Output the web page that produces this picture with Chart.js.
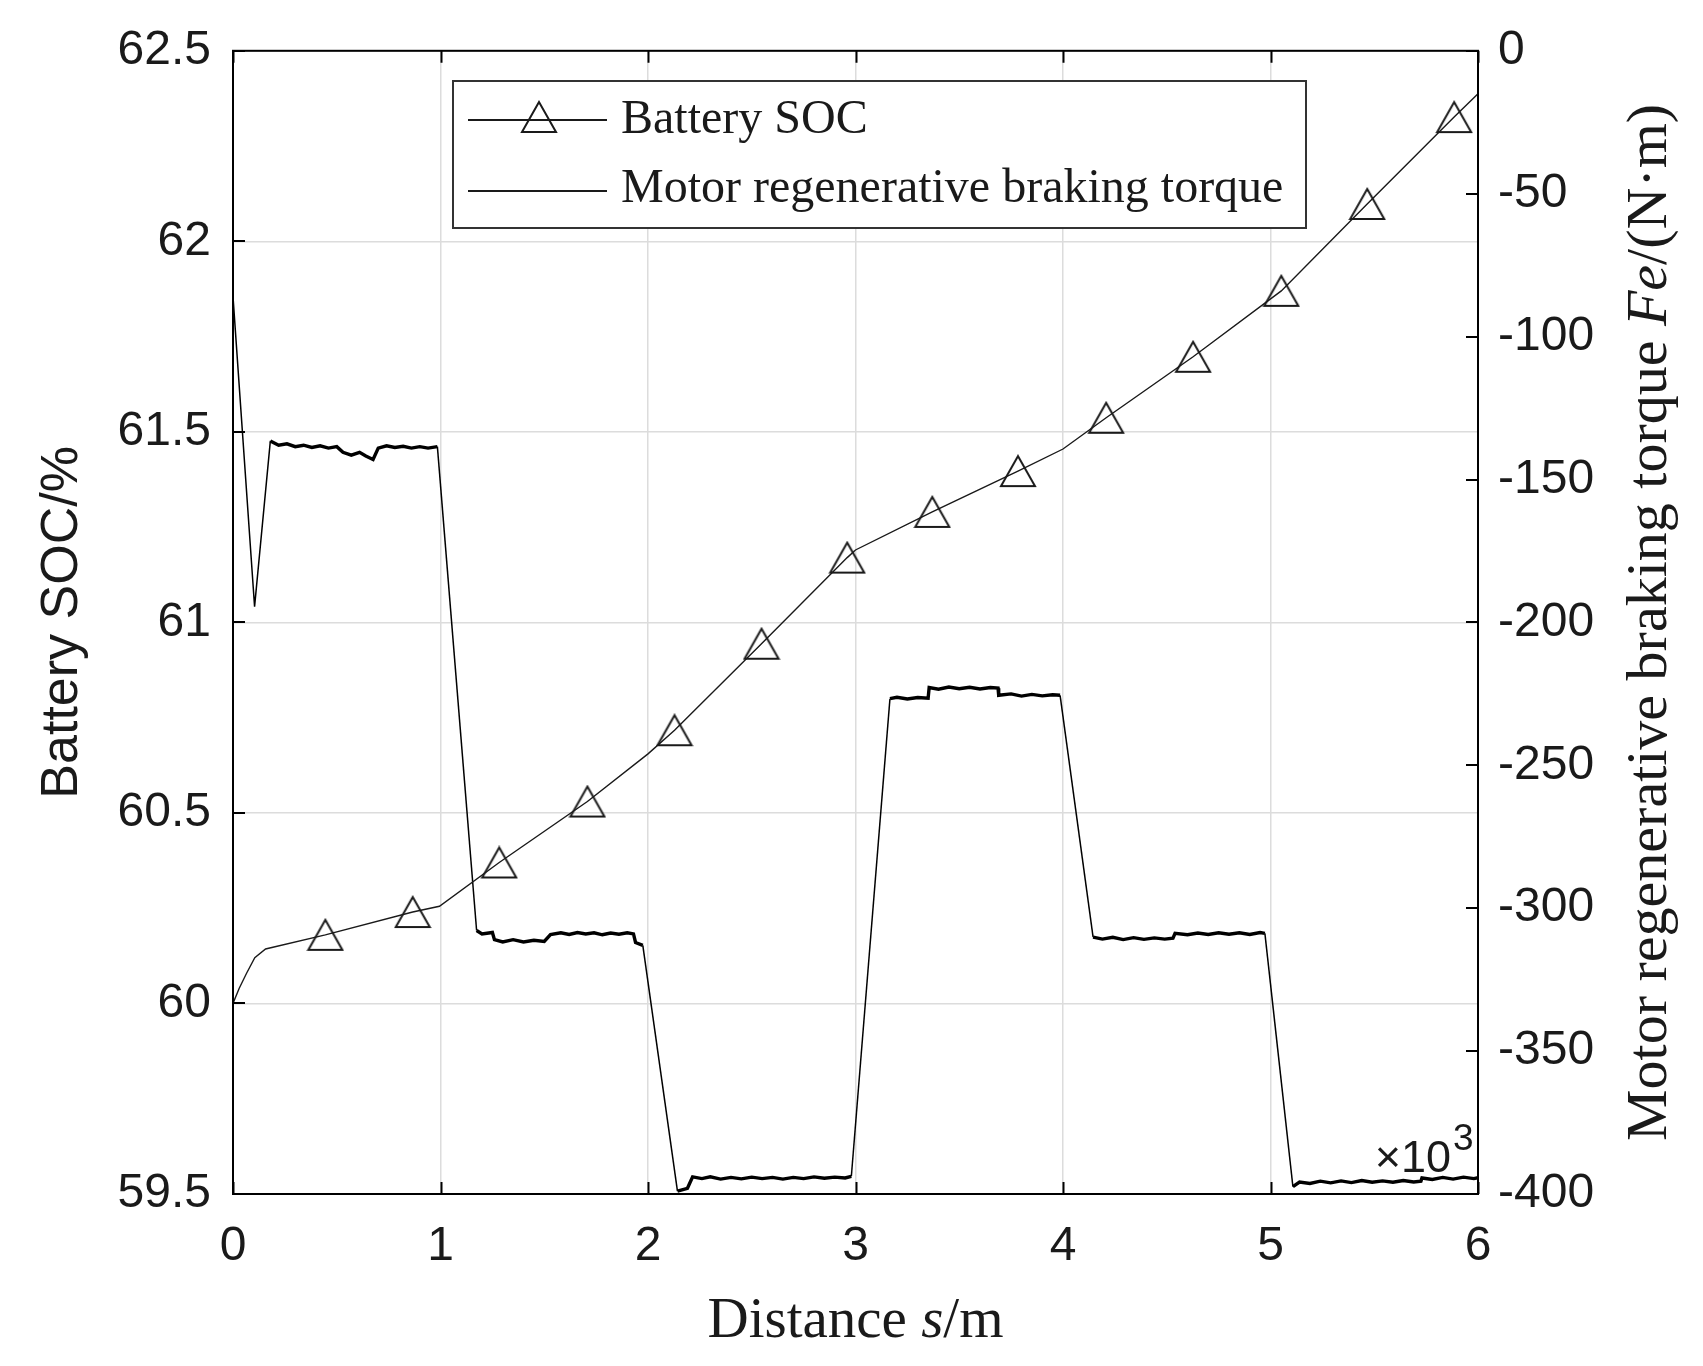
<!DOCTYPE html>
<html><head><meta charset="utf-8">
<script src="https://cdn.jsdelivr.net/npm/chart.js@4.4.0/dist/chart.umd.min.js"></script>
<style>html,body{margin:0;padding:0;background:#fff;}</style>
</head><body>
<canvas id="c" width="1703" height="1366"></canvas>
<script>
// ---- data ----
const distanceTicks = [0, 1, 2, 3, 4, 5, 6];
const socTicks = [59.5, 60, 60.5, 61, 61.5, 62, 62.5];
const torqueTicks = [0, -50, -100, -150, -200, -250, -300, -350, -400];

const socDistance = [0, 0.03, 0.066, 0.105, 0.157, 0.445, 0.866, 0.995, 1.283, 1.708, 2.0, 2.128, 2.547, 2.96, 3.0, 3.37, 3.783, 4.0, 4.208, 4.627, 5.052, 5.466, 5.885, 6.0];
const socValues   = [60.0, 60.04, 60.08, 60.12, 60.143, 60.18, 60.24, 60.255, 60.37, 60.53, 60.655, 60.717, 60.944, 61.17, 61.19, 61.29, 61.397, 61.455, 61.537, 61.697, 61.87, 62.098, 62.326, 62.387];
const socMarkers  = [0, 0, 0, 0, 0, 1, 1, 0, 1, 1, 0, 1, 1, 1, 0, 1, 1, 0, 1, 1, 1, 1, 1, 0];

const torqueDistance = [0.000, 0.104, 0.180, 0.22, 0.26, 0.30, 0.34, 0.38, 0.42, 0.46, 0.50, 0.53, 0.57, 0.61, 0.64, 0.675, 0.70, 0.74, 0.78, 0.82, 0.86, 0.90, 0.94, 0.985,
  1.174, 1.20, 1.25, 1.26, 1.30, 1.35, 1.40, 1.45, 1.50, 1.53, 1.58, 1.62, 1.66, 1.70, 1.74, 1.78, 1.82, 1.86, 1.90, 1.93, 1.94, 1.975,
  2.142, 2.19, 2.215, 2.26, 2.30, 2.35, 2.40, 2.45, 2.50, 2.55, 2.60, 2.65, 2.70, 2.75, 2.80, 2.85, 2.90, 2.95, 2.98,
  3.166, 3.20, 3.25, 3.30, 3.35, 3.355, 3.40, 3.45, 3.50, 3.55, 3.60, 3.65, 3.687, 3.69, 3.75, 3.80, 3.85, 3.90, 3.95, 3.986,
  4.145, 4.19, 4.24, 4.29, 4.34, 4.39, 4.44, 4.49, 4.53, 4.54, 4.60, 4.65, 4.70, 4.75, 4.80, 4.85, 4.90, 4.95, 4.973,
  5.108, 5.14, 5.19, 5.24, 5.29, 5.34, 5.39, 5.44, 5.49, 5.54, 5.59, 5.64, 5.69, 5.725, 5.73, 5.78, 5.83, 5.88, 5.93, 5.98, 6.00];
const torqueValues = [-86, -194.5, -136.5, -138, -137.5, -138.5, -138, -138.8, -138.2, -139, -138.5, -140.5, -141.5, -140.5, -141.8, -143, -139, -138.2, -138.8, -138.4, -139, -138.5, -139, -138.5,
  -307.8, -309, -308.5, -311, -311.8, -311, -311.8, -311.2, -311.6, -309.2, -308.6, -309.2, -308.5, -309.0, -308.6, -309.3, -308.7, -309.1, -308.6, -309, -312, -313,
  -399, -398, -394, -394.6, -394, -394.8, -394.2, -394.7, -394.1, -394.6, -394.2, -394.8, -394.2, -394.6, -394, -394.5, -394.1, -394.4, -393.8,
  -226.7, -226.2, -226.8, -226.3, -226.5, -222.8, -223.4, -222.6, -223.2, -222.7, -223.3, -222.8, -223, -225.5, -225, -225.8, -225.2, -225.7, -225.3, -225.5,
  -310.1, -310.8, -310.2, -311, -310.3, -310.9, -310.4, -310.8, -310.5, -308.8, -309.3, -308.7, -309.2, -308.6, -309.1, -308.6, -309.2, -308.5, -308.8,
  -397.4, -395.8, -396.3, -395.5, -396.1, -395.4, -396, -395.3, -395.9, -395.4, -395.9, -395.3, -395.8, -395.5, -394.4, -394.9, -394.2, -394.8, -394.1, -394.6, -394.3];

const legendLabels = ['Battery SOC', 'Motor regenerative braking torque'];

// ---- styling helpers ----
const SANS = '"Liberation Sans", Arial, sans-serif';
const SERIF = '"Liberation Serif", "Times New Roman", serif';
const INK = '#1a1a1a';
const GRID = '#dcdcdc';

function makeTriangle() {
  const w = 38, h = 34;
  const c = document.createElement('canvas');
  c.width = w; c.height = h;
  const g = c.getContext('2d');
  g.strokeStyle = INK; g.lineWidth = 2; g.lineJoin = 'miter';
  g.beginPath(); g.moveTo(w / 2, 2); g.lineTo(w - 2, h - 2); g.lineTo(2, h - 2); g.closePath(); g.stroke();
  return c;
}
const tri = makeTriangle();

function drawMixed(ctx, parts, cx, y) {
  let total = 0;
  parts.forEach(p => { ctx.font = p[1]; p.w = ctx.measureText(p[0]).width; total += p.w; });
  let x = cx - total / 2;
  parts.forEach(p => { ctx.font = p[1]; ctx.fillText(p[0], x, y); x += p.w; });
}

const decorPlugin = {
  id: 'decor',
  afterDatasetsDraw(chart) {
    const ctx = chart.ctx, a = chart.chartArea;
    const sx = chart.scales.x, sy = chart.scales.y, sy2 = chart.scales.y2;
    ctx.save();
    ctx.strokeStyle = '#000'; ctx.lineWidth = 2;
    const L = 12;
    ctx.beginPath();
    distanceTicks.forEach(v => {
      const px = Math.round(sx.getPixelForValue(v)) + 0.5;
      ctx.moveTo(px, a.bottom); ctx.lineTo(px, a.bottom - L);
      ctx.moveTo(px, a.top); ctx.lineTo(px, a.top + L);
    });
    socTicks.forEach(v => {
      const py = Math.round(sy.getPixelForValue(v));
      ctx.moveTo(a.left, py); ctx.lineTo(a.left + L, py);
    });
    torqueTicks.forEach(v => {
      const py = Math.round(sy2.getPixelForValue(v));
      ctx.moveTo(a.right, py); ctx.lineTo(a.right - L, py);
    });
    ctx.stroke();
    ctx.strokeRect(a.left, a.top, a.right - a.left, a.bottom - a.top);

    // exponent label
    ctx.fillStyle = INK;
    ctx.textBaseline = 'alphabetic';
    ctx.textAlign = 'right';
    ctx.font = '45px ' + SANS;
    ctx.fillText('\u00d710', a.right - 27, a.bottom - 22);
    ctx.textAlign = 'left';
    ctx.font = '37px ' + SANS;
    ctx.fillText('3', a.right - 25, a.bottom - 44);

    // legend
    const bx = 453, by = 81, bw = 853, bh = 147;
    ctx.fillStyle = '#fff';
    ctx.fillRect(bx, by, bw, bh);
    ctx.strokeStyle = '#333'; ctx.lineWidth = 2;
    ctx.strokeRect(bx, by, bw, bh);
    ctx.strokeStyle = INK; ctx.lineWidth = 2;
    ctx.beginPath();
    ctx.moveTo(468, 120); ctx.lineTo(607, 120);
    ctx.moveTo(468, 191); ctx.lineTo(607, 191);
    ctx.stroke();
    ctx.drawImage(tri, 539 - tri.width / 2, 117 - tri.height / 2);
    ctx.fillStyle = INK;
    ctx.font = '48px ' + SERIF;
    ctx.textAlign = 'left';
    ctx.fillText(legendLabels[0], 621, 133);
    ctx.fillText(legendLabels[1], 621, 202);

    // axis titles
    ctx.textAlign = 'left';
    drawMixed(ctx, [['Distance ', '57px ' + SERIF], ['s', 'italic 57px ' + SERIF], ['/m', '57px ' + SERIF]], (a.left + a.right) / 2, 1337);

    ctx.save();
    ctx.translate(77, (a.top + a.bottom) / 2);
    ctx.rotate(-Math.PI / 2);
    ctx.textAlign = 'center';
    ctx.font = '52px ' + SANS;
    ctx.fillText('Battery SOC/%', 0, 0);
    ctx.restore();

    ctx.save();
    ctx.translate(1666, (a.top + a.bottom) / 2);
    ctx.rotate(-Math.PI / 2);
    ctx.textAlign = 'left';
    drawMixed(ctx, [['Motor regenerative braking torque ', '58px ' + SERIF], ['Fe', 'italic 58px ' + SERIF], ['/(N\u00b7m)', '58px ' + SERIF]], 0, 0);
    ctx.restore();
    ctx.restore();
  }
};

const socData = socDistance.map((d, i) => ({ x: d, y: socValues[i] }));
const torqueData = torqueDistance.map((d, i) => ({ x: d, y: torqueValues[i] }));

new Chart(document.getElementById('c'), {
  type: 'line',
  data: {
    datasets: [
      {
        label: legendLabels[0],
        data: socData,
        yAxisID: 'y',
        borderColor: INK,
        borderWidth: 1.4,
        tension: 0,
        pointRadius: socMarkers.map(m => m ? 17 : 0),
        pointStyle: tri,
        pointHoverRadius: 0
      },
      {
        label: legendLabels[1],
        data: torqueData,
        yAxisID: 'y2',
        borderColor: '#000',
        borderWidth: 1.5,
        tension: 0,
        pointRadius: 0,
        segment: {
          borderWidth: c => Math.abs(c.p0.parsed.y - c.p1.parsed.y) < 6 ? 3.4 : 1.5
        }
      }
    ]
  },
  options: {
    responsive: false,
    animation: false,
    devicePixelRatio: 1,
    layout: { padding: { top: 49, left: 0, right: 0, bottom: 0 } },
    plugins: { legend: { display: false }, tooltip: { enabled: false } },
    scales: {
      x: {
        type: 'linear', min: 0, max: 6,
        afterBuildTicks: s => { s.ticks = distanceTicks.map(v => ({ value: v })); },
        afterFit: s => { s.height = 172; },
        ticks: { font: { family: SANS, size: 48 }, color: INK, padding: 24, maxRotation: 0, callback: v => String(v) },
        grid: { color: GRID, lineWidth: 1.5, drawTicks: false },
        border: { display: false }
      },
      y: {
        type: 'linear', position: 'left', min: 59.5, max: 62.5,
        afterBuildTicks: s => { s.ticks = socTicks.map(v => ({ value: v })); },
        afterFit: s => { s.width = 233; },
        ticks: { font: { family: SANS, size: 48 }, color: INK, padding: 22, callback: v => String(v) },
        grid: { color: GRID, lineWidth: 1.5, drawTicks: false },
        border: { display: false }
      },
      y2: {
        type: 'linear', position: 'right', min: -400, max: 0,
        afterBuildTicks: s => { s.ticks = torqueTicks.map(v => ({ value: v })); },
        afterFit: s => { s.width = 225; },
        ticks: { font: { family: SANS, size: 48 }, color: INK, padding: 20, callback: v => String(v) },
        grid: { drawOnChartArea: false, drawTicks: false },
        border: { display: false }
      }
    }
  },
  plugins: [decorPlugin]
});
</script>
</body></html>
